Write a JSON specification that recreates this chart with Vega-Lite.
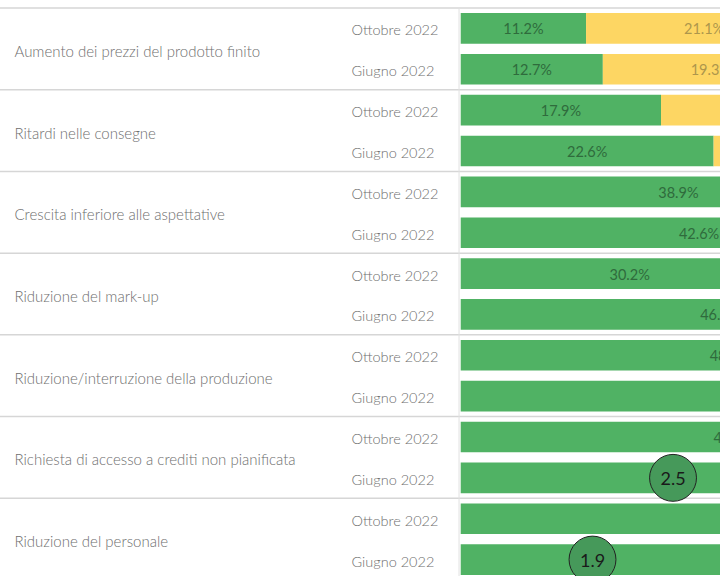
{
  "$schema": "https://vega.github.io/schema/vega-lite/v6.json",
  "width": 720,
  "height": 568,
  "autosize": {"type": "none"},
  "padding": {"top": 8, "left": 0, "right": 5, "bottom": 0},
  "background": "white",
  "config": {"view": {"stroke": null}, "font": "Lato"},
  "datasets": {
    "cats": [
      {"cat": "Aumento dei prezzi del prodotto finito"},
      {"cat": "Ritardi nelle consegne"},
      {"cat": "Crescita inferiore alle aspettative"},
      {"cat": "Riduzione del mark-up"},
      {"cat": "Riduzione/interruzione della produzione"},
      {"cat": "Richiesta di accesso a crediti non pianificata"},
      {"cat": "Riduzione del personale"}
    ],
    "segments": [
      {"key": "Aumento dei prezzi del prodotto finito|Ottobre 2022", "resp": "Basso", "value": 0.112},
      {"key": "Aumento dei prezzi del prodotto finito|Ottobre 2022", "resp": "Medio", "value": 0.211},
      {"key": "Aumento dei prezzi del prodotto finito|Giugno 2022", "resp": "Basso", "value": 0.127},
      {"key": "Aumento dei prezzi del prodotto finito|Giugno 2022", "resp": "Medio", "value": 0.193},
      {"key": "Ritardi nelle consegne|Ottobre 2022", "resp": "Basso", "value": 0.179},
      {"key": "Ritardi nelle consegne|Ottobre 2022", "resp": "Medio", "value": 0.284},
      {"key": "Ritardi nelle consegne|Giugno 2022", "resp": "Basso", "value": 0.226},
      {"key": "Ritardi nelle consegne|Giugno 2022", "resp": "Medio", "value": 0.241},
      {"key": "Crescita inferiore alle aspettative|Ottobre 2022", "resp": "Basso", "value": 0.389},
      {"key": "Crescita inferiore alle aspettative|Giugno 2022", "resp": "Basso", "value": 0.426},
      {"key": "Riduzione del mark-up|Ottobre 2022", "resp": "Basso", "value": 0.302},
      {"key": "Riduzione del mark-up|Giugno 2022", "resp": "Basso", "value": 0.464},
      {"key": "Riduzione/interruzione della produzione|Ottobre 2022", "resp": "Basso", "value": 0.481},
      {"key": "Riduzione/interruzione della produzione|Giugno 2022", "resp": "Basso", "value": 0.532},
      {"key": "Richiesta di accesso a crediti non pianificata|Ottobre 2022", "resp": "Basso", "value": 0.488},
      {"key": "Richiesta di accesso a crediti non pianificata|Giugno 2022", "resp": "Basso", "value": 0.55},
      {"key": "Riduzione del personale|Ottobre 2022", "resp": "Basso", "value": 0.58},
      {"key": "Riduzione del personale|Giugno 2022", "resp": "Basso", "value": 0.62}
    ],
    "circles": [
      {"key": "Richiesta di accesso a crediti non pianificata|Giugno 2022", "score": 2.5},
      {"key": "Riduzione del personale|Giugno 2022", "score": 1.9}
    ]
  },
  "layer": [
    {
      "data": {"name": "cats"},
      "mark": {"type": "rule", "color": "#d6d6d6", "strokeWidth": 1.5},
      "encoding": {
        "y": {
          "field": "cat", "type": "nominal", "bandPosition": 0,
          "scale": {
            "type": "band",
            "domain": ["Aumento dei prezzi del prodotto finito", "Ritardi nelle consegne", "Crescita inferiore alle aspettative", "Riduzione del mark-up", "Riduzione/interruzione della produzione", "Richiesta di accesso a crediti non pianificata", "Riduzione del personale"],
            "range": [0, 572], "paddingInner": 0, "paddingOuter": 0
          },
          "axis": {
            "orient": "left", "title": null, "domain": false, "ticks": false, "grid": false,
            "labelAlign": "left", "labelBaseline": "middle", "labelPadding": -14, "labelLimit": 500, "labelOffset": 3,
            "labelFont": "Lato", "labelFontSize": 15, "labelFontWeight": 300, "labelColor": "#6e6e6e"
          }
        }
      }
    },
    {
      "data": {"name": "segments"},
      "layer": [
        {
          "mark": {"type": "bar", "clip": true},
          "encoding": {
            "x": {"field": "value", "type": "quantitative", "stack": "zero", "scale": {"domain": [-0.4117, 0.2317], "nice": false, "zero": false}, "axis": null},
            "y": {
              "field": "key", "type": "nominal",
              "scale": {
                "type": "band",
                "domain": [
                  "Aumento dei prezzi del prodotto finito|Ottobre 2022", "Aumento dei prezzi del prodotto finito|Giugno 2022",
                  "Ritardi nelle consegne|Ottobre 2022", "Ritardi nelle consegne|Giugno 2022",
                  "Crescita inferiore alle aspettative|Ottobre 2022", "Crescita inferiore alle aspettative|Giugno 2022",
                  "Riduzione del mark-up|Ottobre 2022", "Riduzione del mark-up|Giugno 2022",
                  "Riduzione/interruzione della produzione|Ottobre 2022", "Riduzione/interruzione della produzione|Giugno 2022",
                  "Richiesta di accesso a crediti non pianificata|Ottobre 2022", "Richiesta di accesso a crediti non pianificata|Giugno 2022",
                  "Riduzione del personale|Ottobre 2022", "Riduzione del personale|Giugno 2022"
                ],
                "range": [0, 572], "paddingInner": 0.25, "paddingOuter": 0.125
              },
              "axis": {
                "orient": "right", "title": null, "domain": false, "ticks": false, "grid": false,
                "labelAlign": "left", "labelBaseline": "middle", "labelPadding": -369, "labelLimit": 300, "labelOffset": 3,
                "labelFont": "Lato", "labelFontSize": 14.5, "labelFontWeight": 300, "labelColor": "#6e6e6e",
                "labelExpr": "split(datum.value, '|')[1]"
              }
            },
            "color": {"field": "resp", "type": "nominal", "scale": {"domain": ["Basso", "Medio"], "range": ["#50b264", "#fdd663"]}, "legend": null}
          }
        },
        {
          "mark": {"type": "text", "clip": true, "fontSize": 14.5, "font": "Lato", "baseline": "middle", "dy": 2},
          "encoding": {
            "x": {"field": "value", "type": "quantitative", "stack": "zero", "bandPosition": 0.5},
            "y": {"field": "key", "type": "nominal"},
            "detail": {"field": "resp", "type": "nominal"},
            "text": {"field": "value", "type": "quantitative", "format": ".1%"},
            "color": {"condition": {"test": "datum.resp === 'Basso'", "value": "#2f6b3c"}, "value": "#ad964c"}
          }
        },
        {
          "data": {"values": [{}]},
          "mark": {"type": "rule", "color": "#e2e2e2", "strokeWidth": 1},
          "encoding": {"x": {"datum": -0.0015, "type": "quantitative"}}
        }
      ]
    },
    {
      "data": {"name": "circles"},
      "encoding": {
        "x": {"field": "score", "type": "quantitative", "scale": {"domain": [-2.515, 2.85], "nice": false, "zero": false}, "axis": null},
        "y": {
          "field": "key", "type": "nominal", "axis": null,
          "scale": {
            "type": "band",
            "domain": [
              "Aumento dei prezzi del prodotto finito|Ottobre 2022", "Aumento dei prezzi del prodotto finito|Giugno 2022",
              "Ritardi nelle consegne|Ottobre 2022", "Ritardi nelle consegne|Giugno 2022",
              "Crescita inferiore alle aspettative|Ottobre 2022", "Crescita inferiore alle aspettative|Giugno 2022",
              "Riduzione del mark-up|Ottobre 2022", "Riduzione del mark-up|Giugno 2022",
              "Riduzione/interruzione della produzione|Ottobre 2022", "Riduzione/interruzione della produzione|Giugno 2022",
              "Richiesta di accesso a crediti non pianificata|Ottobre 2022", "Richiesta di accesso a crediti non pianificata|Giugno 2022",
              "Riduzione del personale|Ottobre 2022", "Riduzione del personale|Giugno 2022"
            ],
            "range": [0, 572], "paddingInner": 0.25, "paddingOuter": 0.125
          }
        }
      },
      "layer": [
        {
          "mark": {"type": "point", "shape": "circle", "filled": true, "size": 2200, "color": "#46995a", "opacity": 1, "stroke": "#222222", "strokeWidth": 1, "clip": true}
        },
        {
          "mark": {"type": "text", "fontSize": 18, "font": "Lato", "color": "#1a1a1a", "baseline": "middle", "dy": 2, "clip": true},
          "encoding": {"text": {"field": "score", "type": "quantitative", "format": ".1f"}}
        }
      ]
    }
  ],
  "resolve": {"scale": {"x": "independent", "y": "independent", "color": "independent"}}
}
